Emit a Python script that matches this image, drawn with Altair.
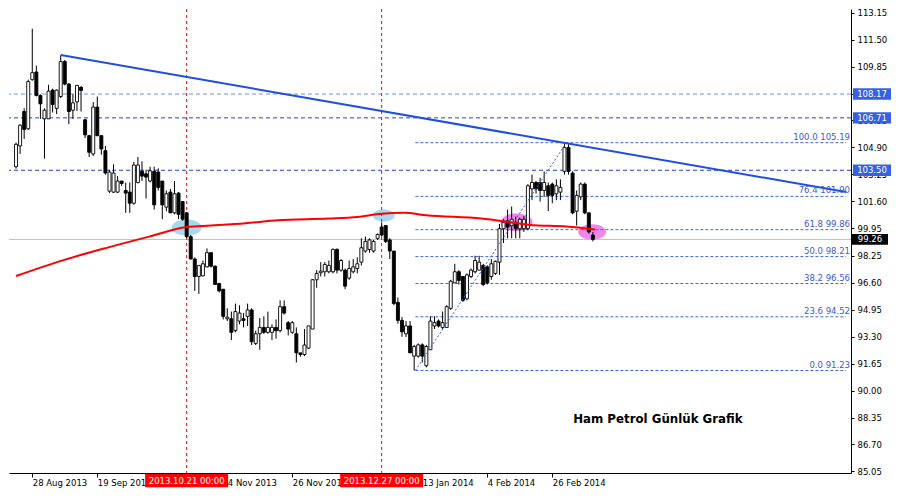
import altair as alt
import pandas as pd

# ---- daily OHLC (bar index 0 = 22 Aug 2013) ----
open_ = [103.72,104.99,107.10,106.04,109.05,109.52,108.08,106.65,106.65,108.41,
         107.29,108.02,110.16,108.78,107.18,107.69,108.58,106.59,105.62,104.50,
         107.37,105.62,104.70,102.22,102.16,102.16,102.84,102.26,102.16,101.48,
         102.75,103.43,103.28,102.84,103.43,103.39,102.84,101.24,102.16,100.89,
         102.10,101.58,100.89,99.43,98.06,96.99,97.03,97.58,98.45,97.62,
         96.56,96.21,94.40,94.40,93.67,94.26,94.40,94.55,94.94,92.89,
         93.48,93.87,93.57,93.57,93.87,93.67,95.14,94.16,93.57,93.48,
         92.31,92.21,92.60,93.77,96.79,97.22,97.28,97.28,97.28,98.65,
         97.38,97.38,96.89,97.28,97.48,97.87,98.55,98.65,98.55,99.33,
         100.02,100.11,99.23,98.55,95.40,94.30,93.48,93.96,92.11,92.11,
         92.80,91.52,92.50,93.96,94.26,93.87,93.87,95.04,96.60,97.28,
         96.99,95.62,96.99,97.28,97.38,97.67,97.58,96.99,97.18,97.87,
         99.92,100.40,100.11,100.31,99.92,99.92,99.92,102.36,102.75,102.75,
         102.26,102.55,102.65,102.06,102.16,103.43,104.90,103.33,100.99,101.87,
         102.65,100.89,99.53]
high = [105.20,106.32,107.29,109.05,112.17,109.91,108.15,107.29,108.74,108.50,
        108.45,110.55,110.26,108.84,108.15,108.72,108.66,106.65,105.67,107.68,
        108.02,105.62,104.99,103.53,103.86,103.14,102.84,102.75,102.75,104.01,
        104.31,104.05,103.53,103.72,103.72,103.62,102.84,102.26,102.36,102.84,
        102.16,101.58,100.93,99.53,98.16,97.67,97.97,98.71,98.45,97.67,
        96.60,96.21,95.04,94.84,95.33,95.23,94.75,95.33,95.04,93.67,
        94.45,94.55,94.84,94.06,94.36,95.53,95.53,94.26,94.26,93.87,
        92.31,93.77,93.96,96.84,97.38,97.87,97.87,97.97,98.71,98.71,
        98.06,97.48,97.97,98.06,98.16,99.33,99.43,99.33,99.23,99.62,
        100.31,100.11,99.33,98.55,95.70,94.50,94.26,94.26,92.80,92.89,
        92.89,92.80,94.55,94.55,94.36,94.84,95.23,96.79,97.77,97.38,
        96.99,97.18,97.48,98.26,98.26,97.77,97.67,98.06,97.97,100.21,
        100.50,101.09,101.28,100.66,100.60,100.70,102.65,103.23,102.84,103.04,
        103.43,102.75,102.75,102.94,102.94,105.19,105.10,103.43,102.26,102.75,
        102.75,100.89,99.72]
low = [103.60,104.50,105.42,105.97,108.99,108.02,106.65,104.21,106.65,107.04,
       106.94,107.92,108.70,106.32,106.65,107.14,107.10,105.48,104.31,104.37,
       105.58,104.45,103.23,102.10,102.10,102.10,102.55,100.89,100.89,101.38,
       102.69,102.84,101.77,102.75,101.09,102.26,100.50,100.99,100.89,100.80,
       100.50,100.41,99.35,98.06,96.11,95.92,96.99,97.54,97.54,96.50,
       96.01,94.36,94.26,93.09,93.57,94.06,93.87,93.96,92.79,92.79,
       92.50,93.48,93.48,93.09,93.18,93.57,94.65,93.38,93.48,91.72,
       92.07,92.11,92.55,93.77,96.30,96.99,96.99,97.18,97.18,97.18,
       97.28,96.21,96.79,97.18,97.18,97.67,98.45,98.45,98.45,99.23,
       99.43,99.04,98.06,95.23,94.10,93.30,93.28,92.31,91.23,92.02,
       91.72,91.42,92.50,93.77,93.87,93.77,93.87,94.94,96.60,96.50,
       95.43,95.53,96.89,97.18,97.38,96.40,96.50,96.79,97.09,97.09,
       99.04,99.33,99.33,99.33,99.33,99.72,99.82,101.67,102.06,101.58,
       101.87,101.00,101.48,101.67,101.67,103.23,103.23,100.80,100.11,101.67,
       100.80,99.62,99.14]
close = [105.09,106.26,106.00,108.93,109.48,108.08,107.57,107.18,108.35,107.53,
         108.41,110.16,108.78,107.10,107.63,108.70,108.39,105.67,104.60,107.37,
         105.62,104.80,103.33,103.39,103.33,102.84,102.69,102.10,101.48,103.82,
         103.82,103.14,103.08,103.47,101.38,102.45,101.38,102.06,100.89,102.06,
         100.80,100.50,99.43,98.06,96.99,97.67,97.77,98.45,97.62,96.50,
         96.11,94.55,94.50,93.57,94.84,94.75,94.30,94.94,92.99,93.48,
         93.87,93.57,93.87,93.87,93.67,95.14,94.75,93.77,94.16,92.31,
         92.21,92.79,93.96,96.79,97.18,97.32,97.73,97.67,98.65,97.38,
         97.97,96.40,97.48,97.58,97.77,98.75,99.14,99.23,99.14,99.57,
         99.53,99.14,98.55,95.33,94.30,93.60,93.96,92.31,92.70,92.80,
         92.11,92.70,94.26,94.16,93.96,94.16,95.14,96.70,97.28,96.75,
         95.53,97.09,97.38,97.97,97.87,96.50,96.60,97.77,97.92,99.92,
         100.31,100.02,100.50,99.92,100.50,100.50,102.55,102.75,102.36,102.26,
         102.75,101.96,101.96,102.55,102.45,104.90,103.43,100.89,101.96,102.65,
         100.89,99.72,99.26]

# ---- axes ----
tick_idx = [4, 20, 36, 52, 68, 84, 100, 116, 132]
tick_lbl = ["28 Aug 2013", "19 Sep 2013", "11 Oct 2013", "4 Nov 2013", "26 Nov 2013",
            "18 Dec 2013", "13 Jan 2014", "4 Feb 2014", "26 Feb 2014"]
price_ticks = [85.05, 86.70, 88.35, 90.00, 91.65, 93.30, 94.95, 96.60, 98.25, 99.95,
               101.60, 103.25, 104.90, 106.55, 108.20, 109.85, 111.50, 113.15]

# ---- moving average (read points) ----
ma_idx = [0, 11.5, 22.5, 33, 42, 48, 56.5, 64.5, 77, 84, 90, 95.5, 101, 114.5, 121, 126.5, 135.5, 142.5]
ma_val = [97.02, 97.98, 98.76, 99.45, 100.02, 100.11, 100.25, 100.44, 100.54, 100.64,
          100.84, 100.89, 100.74, 100.54, 100.34, 100.15, 100.05, 99.87]

# ---- trend line ----
trend_idx = [11, 204.3]
trend_val = [110.56, 102.17]

# ---- fibonacci ----
fib_pct = ["0.0", "23.6", "38.2", "50.0", "61.8", "76.4", "100.0"]
fib_val = [91.23, 94.52, 96.56, 98.21, 99.86, 101.90, 105.19]
fib_start = 98.3
fib_diag_idx = [98.3, 135.5]
fib_diag_val = [91.23, 105.19]

# ---- horizontal levels ----
level_val = [108.17, 106.71, 103.50]
level_col = ["#6f90e6", "#2246d8", "#1f3fd6"]
last_price = 99.26

# ---- vertical date lines ----
vline_idx = [42, 90]
vline_lbl = ["2013.10.21 00:00", "2013.12.27 00:00"]

# ---- highlight ellipses ----
ell_idx = [42, 90.5, 123.2, 141.8]
ell_val = [99.99, 100.73, 100.31, 99.72]
ell_w = [30, 22, 32, 28]
ell_col = ["#a8d8ea", "#a8d8ea", "#ee88ee", "#ee88ee"]

title_idx = [158]
title_val = [88.24]
title_txt = ["Ham Petrol Günlük Grafik"]

W, H = 842, 464
XMIN, XMAX = -0.5, 204.3
FONT = "DejaVu Sans"

xs = alt.Scale(domain=[XMIN, XMAX], nice=False, zero=False)
ys = alt.Scale(domain=[84.95, 113.38], nice=False, zero=False)
label_expr = ("[" + ",".join("'%s'" % s for s in tick_lbl) + "][indexof(["
              + ",".join(str(v) for v in tick_idx) + "], datum.value)]")
xaxis = alt.Axis(orient="bottom", values=tick_idx, labelExpr=label_expr, title=None, grid=False,
                 tickSize=4, tickColor="black", domainColor="black", labelColor="black",
                 labelFont=FONT, labelFontSize=8.5, labelAlign="left", labelBaseline="top",
                 labelPadding=1, labelOverlap=False, labelFlush=False, labelBound=False, zindex=0)
yaxis = alt.Axis(orient="right", values=price_ticks, format=".2f", title=None, grid=False,
                 tickSize=3, tickColor="black", domainColor="black", labelColor="black",
                 labelFont=FONT, labelFontSize=8.5, labelPadding=3, labelOverlap=False,
                 labelFlush=False, labelBound=False, zindex=0)

def X(f):
    return alt.X(f, type="quantitative", scale=xs, axis=xaxis)

def Y(f):
    return alt.Y(f, type="quantitative", scale=ys, axis=yaxis)

n = len(close)
candles = pd.DataFrame({"i": list(range(n)), "o": open_, "h": high, "l": low, "c": close})
candles["bull"] = candles["c"] >= candles["o"]

ma = pd.DataFrame({"i": ma_idx, "p": ma_val})
trend = pd.DataFrame({"i": trend_idx, "p": trend_val})
fib = pd.DataFrame({"i": [fib_start] * len(fib_val), "i2": [XMAX] * len(fib_val), "p": fib_val,
                    "lbl": [f"{a} {b:.2f}" for a, b in zip(fib_pct, fib_val)]})
fibd = pd.DataFrame({"i": fib_diag_idx, "p": fib_diag_val})
levels = pd.DataFrame({"p": level_val, "col": level_col, "lbl": [f"{v:.2f}" for v in level_val]})
lastp = pd.DataFrame({"p": [last_price], "lbl": [f"{last_price:.2f}"]})
vl = pd.DataFrame({"i": vline_idx, "lbl": vline_lbl})
ell = pd.DataFrame({"i": ell_idx, "p": ell_val, "s": [w * w for w in ell_w], "col": ell_col})
ttl = pd.DataFrame({"i": title_idx, "p": title_val, "t": title_txt})

ELLIPSE = "M-1,0 A1,0.55 0 1,1 1,0 A1,0.55 0 1,1 -1,0 Z"
BOX_BLUE = "M-1,-0.3 L1,-0.3 L1,0.3 L-1,0.3 Z"
BOX_RED = "M-1,-0.16 L1,-0.16 L1,0.16 L-1,0.16 Z"

ell_layer = alt.Chart(ell).mark_point(shape=ELLIPSE, filled=True, opacity=1, strokeWidth=0).encode(
    x=X("i"), y=Y("p"), size=alt.Size("s:Q", scale=None), color=alt.Color("col:N", scale=None))

level_layer = alt.Chart(levels).mark_rule(strokeDash=[4, 3], strokeWidth=1).encode(
    y=Y("p"), color=alt.Color("col:N", scale=None))

last_layer = alt.Chart(lastp).mark_rule(color="#c0c0c0", strokeWidth=1).encode(y=Y("p"))

fib_layer = alt.Chart(fib).mark_rule(color="#4068e0", strokeDash=[3, 2], strokeWidth=1).encode(
    x=X("i"), x2="i2", y=Y("p"))

vline_layer = alt.Chart(vl).mark_rule(color="#ff0000", strokeDash=[3, 3], strokeWidth=1).encode(x=X("i"))

wick_layer = alt.Chart(candles).mark_rule(color="black", strokeWidth=1).encode(
    x=X("i"), y=Y("l"), y2="h")

body_layer = alt.Chart(candles).mark_bar(size=3, stroke="black", strokeWidth=0.9).encode(
    x=X("i"), y=Y("o"), y2="c",
    fill=alt.condition("datum.bull", alt.value("white"), alt.value("black")))

ma_layer = alt.Chart(ma).mark_line(color="#ff0000", strokeWidth=2, interpolate="monotone").encode(
    x=X("i"), y=Y("p"), order="i:Q")

trend_layer = alt.Chart(trend).mark_line(color="#1f4ee0", strokeWidth=2).encode(x=X("i"), y=Y("p"))

fibd_layer = alt.Chart(fibd).mark_line(color="#3a5fe0", strokeDash=[2, 2], strokeWidth=1).encode(
    x=X("i"), y=Y("p"))

fib_text = alt.Chart(fib).mark_text(align="right", baseline="bottom", dy=-1, font=FONT,
                                    fontSize=8.5, color="#3a5ad8").encode(
    x=alt.value(W - 1), y=Y("p"), text="lbl:N")

lvl_box = alt.Chart(levels).mark_point(shape=BOX_BLUE, filled=True, opacity=1, strokeWidth=0,
                                       size=38 * 38, color="#3462e2").encode(
    x=alt.value(W + 21), y=Y("p"))
lvl_txt = alt.Chart(levels).mark_text(font=FONT, fontSize=8.5, color="white", baseline="middle").encode(
    x=alt.value(W + 21), y=Y("p"), text="lbl:N")

last_box = alt.Chart(lastp).mark_point(shape=BOX_BLUE, filled=True, opacity=1, strokeWidth=0,
                                       size=36 * 36, color="black").encode(
    x=alt.value(W + 19), y=Y("p"))
last_txt = alt.Chart(lastp).mark_text(font=FONT, fontSize=8.5, color="white", baseline="middle").encode(
    x=alt.value(W + 19), y=Y("p"), text="lbl:N")

date_box = alt.Chart(vl).mark_point(shape=BOX_RED, filled=True, opacity=1, strokeWidth=0,
                                    size=83 * 83, color="#ff0000").encode(
    x=X("i"), y=alt.value(H + 7.5))
date_txt = alt.Chart(vl).mark_text(font=FONT, fontSize=8.5, color="white", baseline="middle").encode(
    x=X("i"), y=alt.value(H + 8), text="lbl:N")

title_layer = alt.Chart(ttl).mark_text(font=FONT, fontSize=11.8, fontWeight="bold", color="black").encode(
    x=X("i"), y=Y("p"), text="t:N")

chart = alt.layer(
    ell_layer, level_layer, last_layer, fib_layer, vline_layer, wick_layer, body_layer,
    ma_layer, trend_layer, fibd_layer, fib_text, lvl_box, lvl_txt, last_box, last_txt,
    date_box, date_txt, title_layer
).properties(
    width=W, height=H, padding={"left": 0, "top": 0, "right": 0, "bottom": 0}, background="white"
).configure_view(stroke=None)

chart.save("out.html", embed_options={"renderer": "svg", "actions": False})
